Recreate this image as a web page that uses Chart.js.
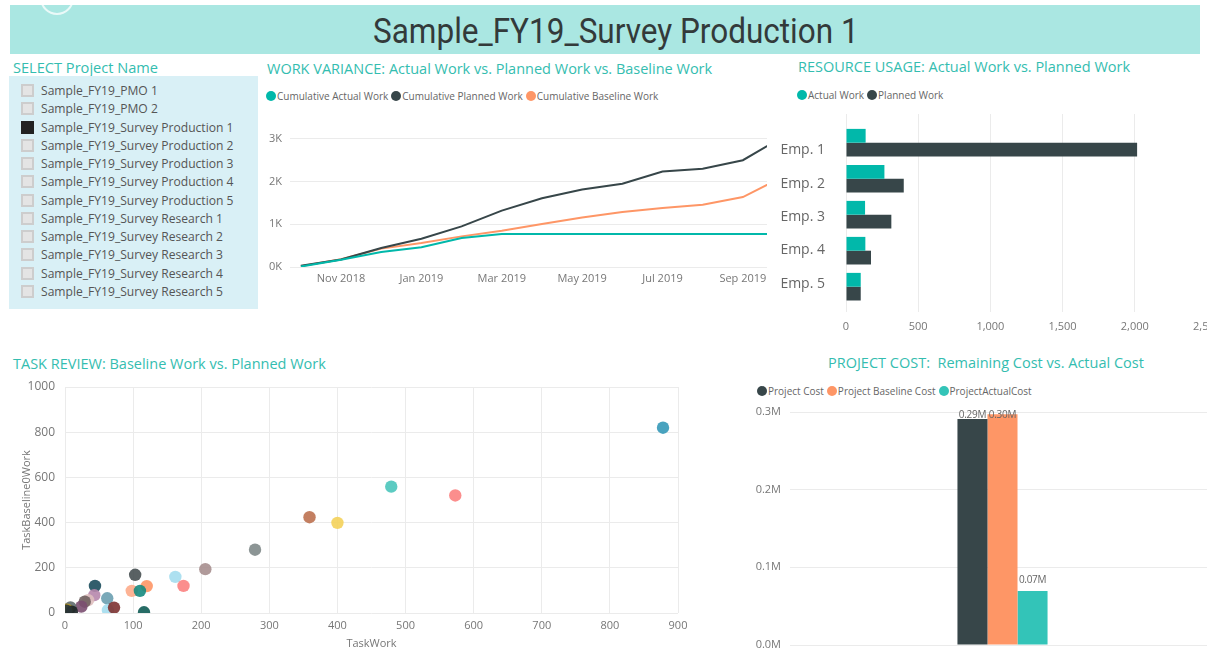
<!DOCTYPE html>
<html>
<head>
<meta charset="utf-8">
<script src="https://cdn.jsdelivr.net/npm/chart.js"></script>
<style>
  body {
    margin: 0;
    width: 1207px;
    height: 650px;
    overflow: hidden;
    position: relative;
    background: #ffffff;
    font-family: "Open Sans", sans-serif;
  }
  .banner {
    position: absolute;
    left: 10px;
    top: 5px;
    width: 1190px;
    height: 49px;
    background: #aae7e2;
    overflow: hidden;
  }
  .banner_icon {
    position: absolute;
    left: 30px;
    top: -24px;
    width: 30px;
    height: 30px;
    border: 2px solid rgba(255, 255, 255, 0.75);
    border-radius: 50%;
  }
  .banner_title {
    position: absolute;
    left: 22px;
    right: 0;
    top: 6px;
    text-align: center;
    font-family: "Roboto", sans-serif;
    font-size: 35px;
    color: #333a3a;
  }
  .banner_title span {
    display: inline-block;
    transform: scaleX(0.9);
  }
  .title {
    position: absolute;
    color: #34bdb0;
    font-size: 14.5px;
    white-space: nowrap;
  }
  .slicer {
    position: absolute;
    left: 9px;
    top: 76px;
    width: 249px;
    height: 233px;
    background: #d9f0f6;
  }
  .slicer_item {
    position: absolute;
    left: 12px;
    height: 16px;
    font-size: 12.1px;
    color: #555;
    line-height: 16px;
    white-space: nowrap;
  }
  .slicer_item i {
    display: inline-block;
    width: 9px;
    height: 9px;
    border: 2px solid #cdcdcd;
    background: #e4e4e4;
    vertical-align: -2px;
    margin-right: 7px;
  }
  .slicer_item.checked i {
    background: #222;
    border-color: #222;
  }
  .legend {
    position: absolute;
    font-size: 10px;
    color: #666;
    white-space: nowrap;
  }
  .legend span { margin-right: 3px; }
  .legend b {
    display: inline-block;
    width: 10px;
    height: 10px;
    border-radius: 50%;
    vertical-align: -1px;
    margin-right: 1px;
  }
  canvas { display: block; }
  .chart_box { position: absolute; }
</style>
</head>
<body>
  <div class="banner">
    <div class="banner_icon"></div>
    <div class="banner_title"><span>Sample_FY19_Survey Production 1</span></div>
  </div>

  <div class="title" style="left:13px; top:57px; font-size:14.6px;">SELECT Project Name</div>
  <div class="slicer" id="slicer"></div>

  <div class="title" style="left:267px; top:59px;">WORK VARIANCE: Actual Work vs. Planned Work vs. Baseline Work</div>
  <div class="legend" id="lineLegend" style="left:266px; top:89px;"></div>
  <div class="chart_box" style="left:262px; top:126px; width:510px; height:164px;"><canvas id="lineChart"></canvas></div>

  <div class="title" style="left:798px; top:57px;">RESOURCE USAGE: Actual Work vs. Planned Work</div>
  <div class="legend" id="barLegend" style="left:797px; top:88px;"></div>
  <div class="chart_box" style="left:776px; top:114px; width:464px; height:220px;"><canvas id="barChart"></canvas></div>

  <div class="title" style="left:13px; top:354px;">TASK REVIEW: Baseline Work vs. Planned Work</div>
  <div class="chart_box" style="left:10px; top:375px; width:680px; height:275px;"><canvas id="scatterChart"></canvas></div>

  <div class="title" style="left:828px; top:353px;">PROJECT COST:&nbsp; Remaining Cost vs. Actual Cost</div>
  <div class="legend" id="costLegend" style="left:757px; top:384px;"></div>
  <div class="chart_box" style="left:740px; top:395px; width:480px; height:255px;"><canvas id="costChart"></canvas></div>

  <script>
    // slicer
    const projects = [
      "Sample_FY19_PMO 1",
      "Sample_FY19_PMO 2",
      "Sample_FY19_Survey Production 1",
      "Sample_FY19_Survey Production 2",
      "Sample_FY19_Survey Production 3",
      "Sample_FY19_Survey Production 4",
      "Sample_FY19_Survey Production 5",
      "Sample_FY19_Survey Research 1",
      "Sample_FY19_Survey Research 2",
      "Sample_FY19_Survey Research 3",
      "Sample_FY19_Survey Research 4",
      "Sample_FY19_Survey Research 5",
    ];
    const selectedProject = "Sample_FY19_Survey Production 1";

    // work variance (cumulative, hours)
    const months = [
      "Oct 2018", "Nov 2018", "Dec 2018", "Jan 2019", "Feb 2019", "Mar 2019", "Apr 2019",
      "May 2019", "Jun 2019", "Jul 2019", "Aug 2019", "Sep 2019", "Oct 2019",
    ];
    const cumActualWork = [10, 170, 350, 460, 680, 772, 772, 772, 772, 772, 772, 772, 772];
    const cumPlannedWork = [30, 175, 445, 660, 950, 1320, 1610, 1815, 1950, 2235, 2300, 2500, 3045];
    const cumBaselineWork = [20, 180, 430, 560, 717, 850, 1005, 1160, 1286, 1380, 1457, 1637, 2110];

    // resource usage
    const employees = ["Emp. 1", "Emp. 2", "Emp. 3", "Emp. 4", "Emp. 5"];
    const actualWork = [136, 266, 132, 134, 102];
    const plannedWork = [2016, 400, 314, 173, 102];

    // task review
    const taskWork = [878, 479, 573, 359, 400, 279, 206, 162, 174, 103, 120, 98, 110, 44, 43, 34, 29, 62, 24, 63, 72, 116, 8, 3, 10, 2];
    const taskBaselineWork = [820, 559, 520, 424, 399, 280, 194, 160, 120, 169, 119, 98, 98, 120, 79, 57, 50, 65, 28, 13, 24, 3, 25, 15, 6, 10];

    // project cost
    const costSeries = ["Project Cost", "Project Baseline Cost", "ProjectActualCost"];
    const costValues = [291000, 297000, 69600];

    const teal = "#01b8aa", dark = "#374649", orange = "#fe9666", costTeal = "#33c4b8";
    const taskColors = [
      "#3599b8", "#4ac5bb", "#fb8281", "#bd7150", "#f4d25a", "#7f898a", "#a78f8f", "#a4ddee",
      "#fb8281", "#475052", "#fe9666", "#fdab89", "#168980", "#1b4d5c", "#b687ac", "#dfbfbf",
      "#706060", "#6a9fb0", "#7b4f71", "#a4ddee", "#7d3231", "#0f5c55", "#5f6b6d", "#b59525",
      "#1c2325", "#293537",
    ];

    const slicer = document.getElementById("slicer");
    projects.forEach((name, i) => {
      const d = document.createElement("div");
      d.className = "slicer_item" + (name === selectedProject ? " checked" : "");
      d.style.top = (7 + i * 18.27) + "px";
      d.innerHTML = "<i></i>" + name;
      slicer.appendChild(d);
    });

    function legend(id, names, colors) {
      document.getElementById(id).innerHTML = names
        .map((n, i) => `<span><b style="background:${colors[i]}"></b>${n}</span>`)
        .join("");
    }
    legend("lineLegend", ["Cumulative Actual Work", "Cumulative Planned Work", "Cumulative Baseline Work"], [teal, dark, orange]);
    legend("barLegend", ["Actual Work", "Planned Work"], [teal, dark]);
    legend("costLegend", costSeries, [dark, orange, costTeal]);

    Chart.defaults.font.family = "'Open Sans', sans-serif";
    Chart.defaults.font.size = 11;
    Chart.defaults.color = "#777";
    Chart.defaults.animation = false;
    Chart.defaults.maintainAspectRatio = false;
    Chart.defaults.plugins.legend.display = false;
    Chart.defaults.plugins.tooltip.enabled = false;
    const gridColor = "#ebebeb";

    // fixed axis sizes, and no extra room for overflowing tick labels
    const fitTo = (size) => (s) => {
      if (s.isHorizontal()) s.height = size;
      else s.width = size;
      s.paddingTop = s.paddingBottom = s.paddingLeft = s.paddingRight = 0;
    };
    const ticksAt = (vals) => (s) => { s.ticks = vals.map((v) => ({ value: v })); };

    const toPoints = (vals) => vals.map((v, i) => ({ x: i, y: v }));

    new Chart(document.getElementById("lineChart"), {
      type: "line",
      data: {
        datasets: [
          { label: "Cumulative Actual Work", data: toPoints(cumActualWork), borderColor: teal },
          { label: "Cumulative Planned Work", data: toPoints(cumPlannedWork), borderColor: dark },
          { label: "Cumulative Baseline Work", data: toPoints(cumBaselineWork), borderColor: orange },
        ].map((d) => ({ ...d, borderWidth: 2, pointRadius: 0, tension: 0, clip: 0 })),
      },
      options: {
        layout: { padding: { right: 5 } },
        scales: {
          x: {
            type: "linear",
            min: -0.27,
            max: 11.6,
            grid: { display: false, drawTicks: false },
            border: { display: false },
            afterBuildTicks: ticksAt([1, 3, 5, 7, 9, 11]),
            afterFit: fitTo(23),
            ticks: { padding: 5, maxRotation: 0, callback: (v) => months[v] },
          },
          y: {
            min: 0,
            max: 3300,
            grid: { color: gridColor, drawTicks: false },
            border: { display: false },
            afterBuildTicks: ticksAt([0, 1000, 2000, 3000]),
            afterFit: fitTo(28),
            ticks: { padding: 8, callback: (v) => v / 1000 + "K" },
          },
        },
      },
    });

    // bars sit on a numeric index axis; the employee names get their own label axis
    const employeeIndex = employees.map((e, i) => i);
    new Chart(document.getElementById("barChart"), {
      type: "bar",
      data: {
        datasets: [
          { label: "Actual Work", data: actualWork.map((v, i) => ({ x: v, y: i })), backgroundColor: teal },
          { label: "Planned Work", data: plannedWork.map((v, i) => ({ x: v, y: i })), backgroundColor: dark },
        ],
      },
      options: {
        indexAxis: "y",
        layout: { padding: { right: 33 } },
        datasets: { bar: { categoryPercentage: 0.767, barPercentage: 1 } },
        scales: {
          x: {
            min: 0,
            max: 2500,
            grid: { color: gridColor, drawTicks: false },
            border: { display: false },
            afterFit: fitTo(22),
            ticks: { stepSize: 500, padding: 8, maxRotation: 0, callback: (v) => v.toLocaleString("en-US") },
          },
          y: {
            type: "linear",
            display: false,
            offset: false,
            reverse: true,
            min: -0.797,
            max: 4.703,
            afterBuildTicks: ticksAt(employeeIndex),
          },
          names: {
            type: "linear",
            position: "left",
            offset: false,
            reverse: true,
            min: -1.096,
            max: 4.85,
            grid: { display: false, drawTicks: false, offset: false },
            border: { display: false },
            afterBuildTicks: ticksAt(employeeIndex),
            afterFit: fitTo(70),
            ticks: { padding: 21, color: "#666", font: { size: 14 }, callback: (v) => employees[v] },
          },
        },
      },
    });

    new Chart(document.getElementById("scatterChart"), {
      type: "scatter",
      data: {
        datasets: [
          {
            data: taskWork.map((x, i) => ({ x: x, y: taskBaselineWork[i] })),
            pointRadius: 6.2,
            pointBorderWidth: 0,
            pointBackgroundColor: taskColors.map((c) => c + "e6"),
            clip: 0,
          },
        ],
      },
      options: {
        layout: { padding: { right: 12, top: 12 } },
        scales: {
          x: {
            min: 0,
            max: 900,
            grid: { color: gridColor, drawTicks: false },
            border: { display: false },
            afterFit: fitTo(37),
            title: { display: true, text: "TaskWork", color: "#777", font: { size: 11 }, padding: { top: 4, bottom: 0 } },
            ticks: { stepSize: 100, padding: 6, maxRotation: 0 },
          },
          y: {
            min: 0,
            max: 1000,
            grid: { color: gridColor, drawTicks: false },
            border: { display: false },
            afterFit: fitTo(55),
            title: { display: true, text: "TaskBaseline0Work", color: "#777", font: { size: 11 }, padding: { top: 10, bottom: 0 } },
            ticks: { stepSize: 200, padding: 10, font: { size: 12 }, callback: (v) => String(v) },
          },
        },
      },
    });

    // value labels above the cost bars, kept inside the plot top
    const barValueLabels = {
      id: "barValueLabels",
      afterDatasetsDraw(chart) {
        const ctx = chart.ctx;
        ctx.save();
        ctx.font = "10px 'Open Sans', sans-serif";
        ctx.letterSpacing = "-0.3px";
        ctx.fillStyle = "#666";
        ctx.textAlign = "center";
        ctx.textBaseline = "middle";
        chart.data.datasets.forEach((ds, i) => {
          chart.getDatasetMeta(i).data.forEach((bar, j) => {
            const y = Math.max(bar.y - 11, chart.chartArea.top + 3);
            ctx.fillText((ds.data[j] / 1e6).toFixed(2) + "M", bar.x, y);
          });
        });
        ctx.restore();
      },
    };

    new Chart(document.getElementById("costChart"), {
      type: "bar",
      data: {
        labels: [""],
        datasets: [
          { label: costSeries[0], data: [costValues[0]], backgroundColor: dark },
          { label: costSeries[1], data: [costValues[1]], backgroundColor: orange },
          { label: costSeries[2], data: [costValues[2]], backgroundColor: costTeal },
        ],
      },
      options: {
        layout: { padding: { right: 5, top: 17, bottom: 5 } },
        datasets: { bar: { categoryPercentage: 0.212, barPercentage: 1 } },
        scales: {
          x: { display: false },
          y: {
            min: 0,
            max: 300000,
            grid: { color: gridColor, drawTicks: false },
            border: { display: false },
            afterFit: fitTo(50),
            ticks: { stepSize: 100000, padding: 9, callback: (v) => (v / 1e6).toFixed(1) + "M" },
          },
        },
      },
      plugins: [barValueLabels],
    });
  </script>
</body>
</html>
